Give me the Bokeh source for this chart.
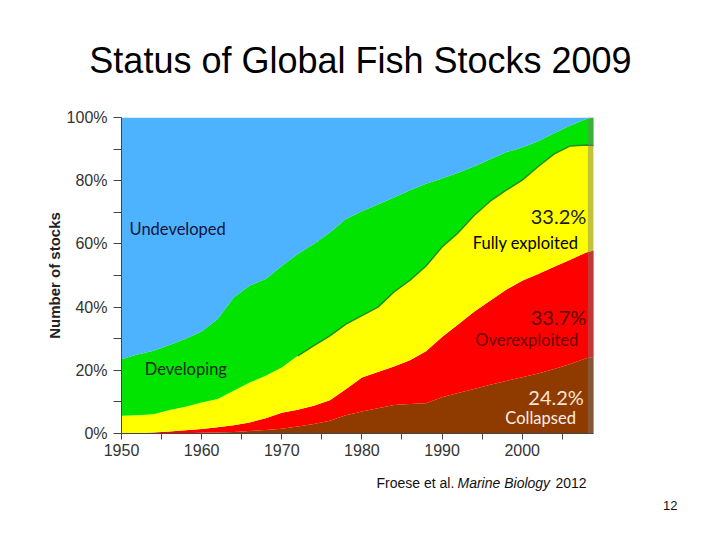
import pandas as pd
from bokeh.plotting import figure
from bokeh.layouts import column
from bokeh.models import ColumnDataSource, Range1d, FixedTicker, Label, BoxAnnotation
from bokeh.embed import file_html
from bokeh.resources import INLINE

years = [1950, 1952, 1954, 1956, 1958, 1960, 1962, 1964, 1966, 1968, 1970,
         1972, 1974, 1976, 1978, 1980, 1982, 1984, 1986, 1988, 1990,
         1992, 1994, 1996, 1998, 2000, 2002, 2004, 2006, 2008, 2009]
collapsed = [0, 0, 0, 0, 0.1, 0.2, 0.3, 0.5, 0.8, 1.1, 1.5,
             2.2, 3.0, 4.0, 5.8, 7.0, 8.0, 9.0, 9.3, 9.6, 11.5,
             12.8, 14.1, 15.4, 16.6, 17.8, 19.0, 20.4, 22.0, 23.8, 24.2]
overexploited = [0, 0.1, 0.3, 0.6, 0.9, 1.2, 1.7, 2.1, 2.7, 3.7, 5.1,
                 5.3, 5.8, 6.5, 8.2, 10.7, 11.5, 12.2, 13.9, 16.4, 19.0,
                 21.7, 24.4, 26.6, 28.9, 30.5, 31.5, 32.4, 33.0, 33.5, 33.7]
fully_exploited = [5.6, 5.7, 5.8, 6.8, 7.5, 8.4, 8.9, 10.9, 12.6, 13.5, 14.3,
                   17.1, 19.0, 20.4, 20.6, 19.6, 20.5, 23.6, 25.3, 27.0, 28.5,
                   29.0, 30.5, 31.5, 31.5, 31.9, 34.0, 35.7, 36.0, 34.0, 33.2]
developing = [17.9, 19.2, 20.1, 20.6, 21.5, 22.5, 25.3, 29.5, 30.7, 30.6, 32.1,
              32.2, 32.2, 32.7, 33.3, 33.0, 32.5, 29.9, 28.5, 26.0, 21.7,
              19.0, 15.5, 13.3, 12.0, 10.3, 8.0, 6.5, 6.5, 8.2, 8.9]
undeveloped = [76.5, 75.0, 73.8, 72.0, 70.0, 67.7, 63.8, 57.0, 53.2, 51.1, 47.0,
               43.2, 40.0, 36.4, 32.1, 29.7, 27.5, 25.3, 23.0, 21.0, 19.3,
               17.5, 15.5, 13.2, 11.0, 9.5, 7.5, 5.0, 2.5, 0.5, 0.0]

categories = ["Collapsed", "Overexploited", "Fully exploited", "Developing", "Undeveloped"]
colors = ["#8f3b00", "#ff0000", "#ffff00", "#00e400", "#4db3ff"]

x_ticks = [1950, 1960, 1970, 1980, 1990, 2000]
x_minor = [1955, 1965, 1975, 1985, 1995, 2005]
y_ticks = [0, 20, 40, 60, 80, 100]
y_tick_labels = ["0%", "20%", "40%", "60%", "80%", "100%"]

df = pd.DataFrame({"year": years, "Collapsed": collapsed, "Overexploited": overexploited,
                   "Fully exploited": fully_exploited, "Developing": developing,
                   "Undeveloped": undeveloped})
df["fully_top"] = df["Collapsed"] + df["Overexploited"] + df["Fully exploited"]
src = ColumnDataSource(df)
line_src = ColumnDataSource(df[df["year"] >= 1972])


def blank(h, y0, y1):
    f = figure(width=720, height=h, output_backend="svg", toolbar_location=None,
               x_range=Range1d(0, 720), y_range=Range1d(y1, y0),
               min_border=0, frame_align=False)
    f.axis.visible = False
    f.grid.visible = False
    f.outline_line_color = None
    return f


header = blank(100, 0, 100)
header.add_layout(Label(x=360, y=60, text="Status of Global Fish Stocks 2009",
                        text_font="Liberation Sans", text_font_size="36px",
                        text_color="#000000", text_align="center", text_baseline="middle"))

p = figure(width=720, height=373, output_backend="svg", toolbar_location=None,
           x_range=Range1d(1950, 2008.9), y_range=Range1d(0, 100), frame_align=False,
           min_border_left=121, min_border_right=127, min_border_top=17, min_border_bottom=40)
p.outline_line_color = None
p.grid.visible = False
p.background_fill_color = "white"

p.varea_stack(stackers=categories, x="year", color=colors, source=src)
p.line("year", "fully_top", source=line_src, line_color="#1f8f1f", line_width=1.5)

p.add_layout(BoxAnnotation(left=2008.2, fill_color="#7a7a7a", fill_alpha=0.45, line_color=None))

p.xaxis.ticker = FixedTicker(ticks=x_ticks, minor_ticks=x_minor)
p.yaxis.ticker = FixedTicker(ticks=y_ticks, minor_ticks=[10, 30, 50, 70, 90])
p.yaxis.major_label_overrides = {t: l for t, l in zip(y_ticks, y_tick_labels)}
for ax in (p.xaxis, p.yaxis):
    ax.major_label_text_font = "Liberation Sans"
    ax.major_label_text_font_size = "16px"
    ax.major_label_text_color = "#333333"
    ax.axis_line_color = "#444444"
    ax.major_tick_line_color = "#444444"
    ax.minor_tick_line_color = "#444444"
    ax.major_tick_in = 0
    ax.minor_tick_in = 0
p.xaxis.major_tick_out = 6
p.xaxis.minor_tick_out = 6
p.yaxis.major_tick_out = 8
p.yaxis.minor_tick_out = 8
p.xaxis.major_label_standoff = 4
p.yaxis.major_label_standoff = 6
p.yaxis.axis_label = "Number of stocks"
p.yaxis.axis_label_text_font = "Liberation Sans"
p.yaxis.axis_label_text_font_style = "bold"
p.yaxis.axis_label_text_font_size = "15px"
p.yaxis.axis_label_text_color = "#222222"
p.yaxis.axis_label_standoff = 1


def lab(fig, x, y, text, size, color, align="left", font="Lato", style="normal"):
    fig.add_layout(Label(x=x, y=y, text=text, text_font=font, text_font_size=size,
                         text_color=color, text_align=align, text_baseline="middle",
                         text_font_style=style))


lab(p, 1951.0, 64.8, "Undeveloped", "16.5px", "#14143c")
lab(p, 1952.9, 20.5, "Developing", "16.5px", "#1a2a1a")
lab(p, 2008.0, 68.9, "33.2%", "20px", "#1a1a1a", "right")
lab(p, 2007.0, 60.4, "Fully exploited", "16.5px", "#000000", "right")
lab(p, 2008.0, 36.9, "33.7%", "20px", "#5a0a0a", "right")
lab(p, 2007.0, 29.7, "Overexploited", "16.5px", "#6a0000", "right")
lab(p, 2007.7, 11.6, "24.2%", "20px", "#f5e6d6", "right")
lab(p, 2006.7, 5.0, "Collapsed", "16.5px", "#f8f0e8", "right")

footer = blank(67, 473, 540)
lab(footer, 376, 482, "Froese et al.", "14px", "#111111", "left", "Liberation Sans")
lab(footer, 457, 482, "Marine Biology", "14px", "#111111", "left", "Liberation Sans", "italic")
lab(footer, 555, 482, "2012", "14px", "#111111", "left", "Liberation Sans")
lab(footer, 677, 505, "12", "13px", "#111111", "right", "Liberation Sans")

layout = column(header, p, footer, spacing=0)
open("out.html", "w").write(file_html(layout, INLINE))
